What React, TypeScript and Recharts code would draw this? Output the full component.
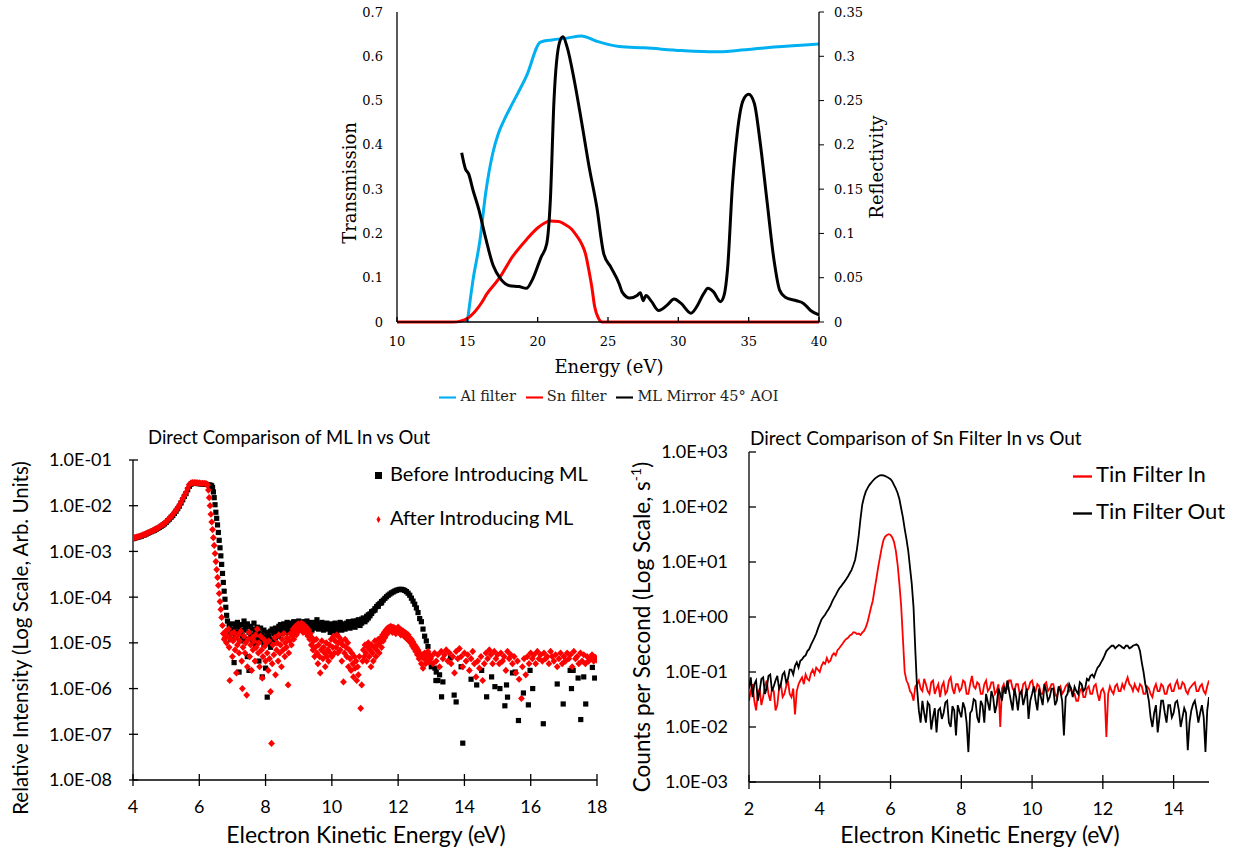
import React from 'react'
import {
  LineChart,
  Line,
  ScatterChart,
  Scatter,
  XAxis,
  YAxis,
  Legend
} from 'recharts'

// ---------- top: filter transmission / mirror reflectivity ----------
const energyTicks = [10, 15, 20, 25, 30, 35, 40]
const transTicks = [0, 0.1, 0.2, 0.3, 0.4, 0.5, 0.6, 0.7]
const reflTicks = [0, 0.05, 0.1, 0.15, 0.2, 0.25, 0.3, 0.35]

const alX = [15.0, 15.4, 15.9, 16.3, 16.8, 17.2, 17.6, 18.2, 19.2, 20.2, 21.0, 22.1, 23.1, 24.2, 25.8, 27.6, 30.2, 32.6, 34.2, 36.8, 40.0]
const alT = [0.0, 0.094, 0.185, 0.29, 0.38, 0.425, 0.455, 0.493, 0.555, 0.632, 0.637, 0.641, 0.646, 0.634, 0.622, 0.619, 0.613, 0.61, 0.613, 0.621, 0.628]

const snX = [10, 14.0, 14.5, 15.0, 15.5, 16.0, 16.4, 17.3, 18.2, 19.2, 20.1, 20.9, 21.5, 21.95, 22.4, 22.7, 23.1, 23.4, 23.65, 23.85, 24.05, 24.3, 24.6, 40]
const snT = [0, 0, 0.002, 0.008, 0.022, 0.043, 0.064, 0.1, 0.147, 0.186, 0.215, 0.228, 0.227, 0.22, 0.21, 0.198, 0.178, 0.154, 0.115, 0.079, 0.035, 0.01, 0, 0]

const mlX = [14.6, 14.86, 15.1, 15.4, 15.8, 16.3, 16.83, 17.35, 18.0, 18.67, 19.2, 19.6, 20.24, 20.64, 20.9, 21.16, 21.56, 21.8, 22.1, 22.6, 23.1, 23.66, 24.2, 24.7, 25.2, 25.8, 26.0, 26.55, 27.07, 27.3, 27.5, 27.7, 28.1, 28.6, 29.2, 29.7, 30.2, 30.9, 31.3, 31.8, 32.1, 32.5, 33.0, 33.25, 33.5, 33.85, 34.2, 34.6, 35.0, 35.4, 35.8, 36.3, 36.8, 37.2, 37.6, 38.4, 38.9, 39.4, 40.0]
const mlR = [0.191, 0.173, 0.167, 0.149, 0.128, 0.095, 0.064, 0.049, 0.041, 0.04, 0.038, 0.047, 0.073, 0.088, 0.137, 0.25, 0.316, 0.322, 0.31, 0.273, 0.228, 0.175, 0.13, 0.077, 0.062, 0.043, 0.034, 0.027, 0.03, 0.033, 0.024, 0.03, 0.023, 0.013, 0.019, 0.026, 0.021, 0.01, 0.017, 0.032, 0.038, 0.034, 0.023, 0.03, 0.06, 0.155, 0.215, 0.25, 0.257, 0.247, 0.205, 0.137, 0.07, 0.036, 0.028, 0.024, 0.021, 0.013, 0.008]

// ---------- bottom left: ML in vs out (scatter) ----------
const mlEnergyTicks = [4, 6, 8, 10, 12, 14, 16, 18]
const mlDecades = [1e-8, 1e-7, 1e-6, 1e-5, 1e-4, 1e-3, 1e-2, 1e-1]

const beforeML: [number, number][] = [
  [4.0, 1.9e-3], [4.05, 1.95e-3], [4.1, 2.0e-3], [4.15, 2.05e-3], [4.2, 2.1e-3], [4.25, 2.15e-3], [4.3, 2.25e-3], [4.35, 2.3e-3],
  [4.4, 2.4e-3], [4.45, 2.5e-3], [4.5, 2.6e-3], [4.55, 2.7e-3], [4.6, 2.8e-3], [4.65, 2.9e-3], [4.7, 3.05e-3], [4.75, 3.2e-3],
  [4.8, 3.35e-3], [4.85, 3.55e-3], [4.9, 3.75e-3], [4.95, 4.0e-3], [5.0, 4.3e-3], [5.05, 4.7e-3], [5.1, 5.1e-3], [5.15, 5.6e-3],
  [5.2, 6.1e-3], [5.25, 6.8e-3], [5.3, 7.6e-3], [5.35, 8.6e-3], [5.4, 9.8e-3], [5.45, 1.15e-2], [5.5, 1.35e-2], [5.55, 1.6e-2],
  [5.6, 1.85e-2], [5.65, 2.25e-2], [5.7, 2.65e-2], [5.75, 2.95e-2], [5.8, 3.1e-2], [5.85, 3.1e-2], [5.9, 3.1e-2], [5.95, 3.05e-2],
  [6.0, 3.05e-2], [6.05, 3.0e-2], [6.1, 3.0e-2], [6.15, 2.95e-2], [6.2, 2.95e-2], [6.25, 2.9e-2], [6.3, 2.85e-2], [6.35, 2.8e-2],
  [6.375, 2.7e-2], [6.4, 2.5e-2], [6.425, 2.0e-2], [6.45, 1.5e-2], [6.475, 1.05e-2], [6.5, 7.2e-3], [6.525, 5.3e-3], [6.55, 3.8e-3],
  [6.575, 2.6e-3], [6.6, 1.75e-3], [6.625, 1.2e-3], [6.65, 8e-4], [6.675, 5.2e-4], [6.7, 3.3e-4], [6.725, 2.1e-4], [6.75, 1.35e-4],
  [6.775, 9e-5], [6.8, 6e-5], [6.825, 4e-5], [6.85, 3e-5],
  [6.9, 2.5e-5], [6.9, 1.5e-5], [6.95, 2.0e-5], [6.95, 1.2e-5], [7.0, 2.6e-5], [7.0, 1.6e-5], [7.05, 1.9e-5], [7.05, 3.7e-6],
  [7.1, 2.4e-5], [7.1, 1.3e-5], [7.15, 2.8e-5], [7.15, 1.7e-5], [7.2, 2.2e-5], [7.2, 2.3e-6], [7.25, 1.8e-5], [7.25, 1.1e-5],
  [7.3, 2.5e-5], [7.3, 1.4e-5], [7.35, 3.0e-5], [7.35, 1.9e-5], [7.4, 2.2e-5], [7.4, 1.2e-5], [7.45, 2.6e-5], [7.45, 5e-6],
  [7.5, 1.7e-5], [7.5, 2.5e-6], [7.55, 2.3e-5], [7.55, 1.3e-5], [7.6, 2.0e-5], [7.6, 1.0e-5], [7.65, 2.7e-5], [7.65, 1.5e-5],
  [7.7, 1.9e-5], [7.7, 9e-6], [7.75, 2.2e-5], [7.75, 1.2e-5], [7.8, 1.6e-5], [7.8, 4e-6], [7.85, 2.1e-5], [7.85, 1.1e-5],
  [7.9, 1.5e-5], [7.9, 1.8e-6], [7.95, 1.9e-5], [7.95, 9e-6], [8.0, 1.3e-5], [8.0, 2.8e-6], [8.05, 1.7e-5], [8.05, 6.5e-7],
  [8.1, 1.4e-5], [8.1, 1.0e-5], [8.15, 1.8e-5], [8.15, 8e-6], [8.2, 1.2e-5], [8.2, 2.0e-5], [8.25, 1.6e-5], [8.25, 1.0e-5],
  [8.3, 2.1e-5], [8.3, 1.3e-5], [8.35, 1.5e-5], [8.35, 1.8e-5], [8.4, 2.3e-5], [8.4, 1.4e-5], [8.45, 1.9e-5], [8.45, 2.5e-5],
  [8.5, 1.6e-5], [8.5, 2.2e-5], [8.55, 2.6e-5], [8.55, 1.7e-5], [8.6, 2.0e-5], [8.6, 2.4e-5], [8.65, 1.8e-5], [8.65, 2.8e-5],
  [8.7, 2.3e-5], [8.7, 1.7e-5], [8.75, 2.7e-5], [8.75, 2.0e-5], [8.8, 2.2e-5], [8.8, 1.9e-5], [8.85, 2.5e-5], [8.85, 2.9e-5],
  [8.9, 2.1e-5], [8.9, 2.6e-5], [8.95, 2.8e-5], [8.95, 2.3e-5], [9.0, 2.4e-5], [9.0, 3.0e-5], [9.05, 2.2e-5], [9.05, 2.7e-5],
  [9.1, 2.5e-5], [9.1, 1.9e-5], [9.15, 2.9e-5], [9.15, 2.3e-5], [9.2, 2.1e-5], [9.2, 2.6e-5], [9.25, 2.4e-5], [9.25, 3.0e-5],
  [9.3, 2.7e-5], [9.3, 2.0e-5], [9.35, 2.3e-5], [9.35, 2.8e-5], [9.4, 2.6e-5], [9.4, 1.9e-5], [9.45, 2.2e-5], [9.45, 2.5e-5],
  [9.5, 2.8e-5], [9.5, 2.1e-5], [9.55, 2.4e-5], [9.55, 3.2e-5], [9.6, 2.0e-5], [9.6, 2.6e-5], [9.65, 2.5e-5], [9.65, 2.2e-5],
  [9.7, 2.3e-5], [9.7, 2.8e-5], [9.75, 2.6e-5], [9.75, 1.9e-5], [9.8, 2.1e-5], [9.8, 2.4e-5], [9.85, 2.7e-5], [9.85, 2.2e-5],
  [9.9, 2.0e-5], [9.9, 2.5e-5], [9.95, 2.3e-5], [9.95, 1.7e-5], [10.0, 2.6e-5], [10.0, 2.0e-5], [10.05, 1.8e-5], [10.05, 2.3e-5],
  [10.1, 2.2e-5], [10.1, 2.7e-5], [10.15, 1.6e-5], [10.15, 2.4e-5], [10.2, 2.5e-5], [10.2, 2.0e-5], [10.25, 2.1e-5], [10.25, 2.8e-5],
  [10.3, 1.9e-5], [10.3, 2.4e-5], [10.35, 2.6e-5], [10.35, 2.2e-5], [10.4, 2.3e-5], [10.4, 2.0e-5], [10.45, 2.7e-5], [10.45, 2.4e-5],
  [10.5, 2.2e-5], [10.5, 2.9e-5], [10.55, 2.5e-5], [10.55, 2.1e-5], [10.6, 2.8e-5], [10.6, 2.3e-5], [10.65, 2.4e-5], [10.65, 3.0e-5],
  [10.7, 2.6e-5], [10.7, 2.2e-5], [10.75, 3.0e-5], [10.75, 2.5e-5], [10.8, 2.7e-5], [10.8, 3.2e-5], [10.85, 2.9e-5], [10.85, 2.4e-5],
  [10.9, 3.3e-5], [10.9, 2.7e-5], [10.95, 3.0e-5], [10.95, 3.5e-5], [11.0, 3.4e-5], [11.0, 2.9e-5], [11.05, 3.8e-5], [11.05, 3.2e-5],
  [11.1, 3.5e-5], [11.1, 4.1e-5], [11.15, 4.3e-5], [11.15, 3.9e-5], [11.2, 4.8e-5], [11.2, 4.4e-5], [11.25, 5.0e-5], [11.3, 5.6e-5],
  [11.3, 5.2e-5], [11.35, 6.2e-5], [11.4, 6.8e-5], [11.4, 6.3e-5], [11.45, 7.3e-5], [11.5, 8.0e-5], [11.5, 7.5e-5], [11.55, 8.6e-5],
  [11.6, 9.4e-5], [11.65, 1.02e-4], [11.7, 1.1e-4], [11.75, 1.17e-4], [11.8, 1.24e-4], [11.85, 1.3e-4], [11.9, 1.36e-4], [11.95, 1.41e-4],
  [12.0, 1.45e-4], [12.05, 1.48e-4], [12.1, 1.48e-4], [12.15, 1.45e-4], [12.2, 1.4e-4], [12.25, 1.32e-4], [12.3, 1.22e-4], [12.35, 1.1e-4],
  [12.4, 9.5e-5], [12.45, 8.2e-5], [12.5, 7.0e-5], [12.55, 5.8e-5], [12.6, 4.6e-5], [12.65, 3.4e-5], [12.7, 2.9e-5], [12.75, 2.0e-5],
  [12.8, 1.4e-5], [12.85, 1.1e-5], [12.9, 8.3e-6], [12.95, 5e-6], [13.0, 3e-6],
  [13.11, 2.8e-6], [13.14, 1.5e-6], [13.15, 2.3e-6], [13.2, 1.5e-6], [13.25, 2.0e-6], [13.31, 6.6e-7], [13.35, 1.4e-6], [13.58, 4.7e-6],
  [13.69, 7.2e-7], [13.75, 5.1e-7], [13.9, 3e-6], [13.95, 6.4e-8], [14.2, 1.6e-6], [14.37, 1.2e-6], [14.52, 2.5e-6], [14.67, 6.6e-7],
  [14.82, 1.8e-6], [14.92, 1.1e-6], [15.07, 1.0e-6], [15.22, 4.2e-7], [15.27, 1.2e-6], [15.3, 6.5e-7], [15.45, 2.2e-6], [15.53, 2.3e-6],
  [15.63, 2e-7], [15.78, 8e-7], [15.93, 4.4e-7], [15.98, 2.5e-6], [16.06, 1.0e-6], [16.38, 1.7e-7], [16.8, 1.26e-6], [16.98, 4.6e-7],
  [17.19, 2.5e-6], [17.23, 1.0e-6], [17.28, 2.5e-6], [17.43, 1.7e-6], [17.51, 2.1e-7], [17.6, 1.8e-6], [17.66, 4.6e-7], [17.86, 2.9e-6],
  [17.93, 1.7e-6]
]

const afterML: [number, number][] = [
  [4.0, 1.95e-3], [4.05, 2.0e-3], [4.1, 2.05e-3], [4.15, 2.1e-3], [4.2, 2.15e-3], [4.25, 2.2e-3], [4.3, 2.3e-3], [4.35, 2.35e-3],
  [4.4, 2.45e-3], [4.45, 2.55e-3], [4.5, 2.65e-3], [4.55, 2.75e-3], [4.6, 2.85e-3], [4.65, 3.0e-3], [4.7, 3.1e-3], [4.75, 3.25e-3],
  [4.8, 3.45e-3], [4.85, 3.65e-3], [4.9, 3.85e-3], [4.95, 4.1e-3], [5.0, 4.45e-3], [5.05, 4.85e-3], [5.1, 5.3e-3], [5.15, 5.8e-3],
  [5.2, 6.4e-3], [5.25, 7.1e-3], [5.3, 8.0e-3], [5.35, 9.0e-3], [5.4, 1.03e-2], [5.45, 1.2e-2], [5.5, 1.42e-2], [5.55, 1.65e-2],
  [5.6, 1.95e-2], [5.65, 2.4e-2], [5.7, 2.9e-2], [5.75, 3.15e-2], [5.8, 3.2e-2], [5.85, 3.2e-2], [5.9, 3.2e-2], [5.95, 3.15e-2],
  [6.0, 3.15e-2], [6.05, 3.1e-2], [6.1, 3.1e-2], [6.15, 3.1e-2], [6.2, 3.05e-2], [6.225, 2.95e-2],
  [6.25, 2.85e-2], [6.275, 2.2e-2], [6.3, 1.5e-2], [6.325, 1.0e-2], [6.35, 6.5e-3], [6.375, 4.4e-3], [6.4, 3.0e-3], [6.425, 2.0e-3],
  [6.45, 1.35e-3], [6.475, 9e-4], [6.5, 6e-4], [6.525, 4e-4], [6.55, 2.7e-4], [6.575, 1.8e-4], [6.6, 1.2e-4], [6.625, 8e-5],
  [6.65, 5.4e-5], [6.675, 3.6e-5], [6.7, 2.4e-5], [6.725, 1.6e-5], [6.75, 1.2e-5],
  [6.78, 1.3e-5], [6.8, 1.8e-5], [6.82, 1.0e-5], [6.85, 1.4e-5], [6.88, 2.0e-5], [6.9, 8e-6], [6.92, 1.5e-6], [6.95, 1.2e-5],
  [6.98, 1.6e-5], [7.0, 5e-6], [7.02, 1.1e-5], [7.05, 1.7e-5], [7.08, 7e-6], [7.1, 1.3e-5], [7.12, 2.2e-6], [7.15, 9e-6],
  [7.18, 1.5e-5], [7.2, 6e-6], [7.22, 1.1e-5], [7.25, 1.8e-5], [7.28, 4e-6], [7.3, 1.0e-6], [7.32, 8e-6], [7.35, 1.4e-5],
  [7.38, 6e-6], [7.4, 1.0e-5], [7.43, 7.2e-7], [7.45, 3e-6], [7.48, 1.2e-5], [7.5, 1.7e-5], [7.52, 5e-6], [7.55, 9e-6],
  [7.58, 2.5e-6], [7.6, 1.3e-5], [7.62, 7e-6], [7.65, 1.1e-5], [7.68, 4e-6], [7.7, 1.5e-5], [7.72, 8e-6], [7.75, 2e-5],
  [7.78, 6e-6], [7.8, 1.0e-5], [7.82, 3e-6], [7.85, 1.4e-5], [7.88, 7e-6], [7.9, 1.7e-6], [7.92, 5e-6], [7.95, 1.2e-5],
  [7.98, 8.5e-6], [8.0, 4e-6], [8.02, 1.0e-5], [8.05, 6e-6], [8.08, 2.5e-6], [8.1, 1.1e-5], [8.12, 4.5e-6], [8.15, 8.6e-7],
  [8.18, 6.3e-8], [8.2, 3.5e-6], [8.22, 9e-6], [8.25, 5.5e-6], [8.28, 1.3e-5], [8.3, 2e-6], [8.33, 7e-6], [8.35, 1.0e-5],
  [8.38, 4e-6], [8.4, 1.5e-5], [8.43, 6e-6], [8.45, 9e-6], [8.48, 3e-6], [8.5, 1.2e-5], [8.53, 7e-6], [8.55, 1.6e-5],
  [8.58, 5e-6], [8.6, 1.0e-5], [8.63, 8e-6], [8.65, 1.3e-5], [8.68, 1.2e-6], [8.7, 6e-6], [8.73, 1.1e-5], [8.75, 1.6e-5],
  [8.78, 9e-6], [8.8, 1.4e-5], [8.83, 2e-5], [8.85, 1.2e-5], [8.88, 1.7e-5], [8.9, 2.3e-5], [8.93, 1.5e-5], [8.95, 2.1e-5],
  [8.98, 2.6e-5], [9.0, 1.8e-5], [9.03, 2.4e-5], [9.05, 2.0e-5], [9.08, 2.7e-5], [9.1, 2.2e-5], [9.13, 1.7e-5], [9.15, 2.5e-5],
  [9.18, 1.9e-5], [9.2, 2.3e-5], [9.23, 1.6e-5], [9.25, 2.1e-5], [9.28, 1.4e-5], [9.3, 1.9e-5], [9.33, 1.2e-5], [9.35, 1.6e-5],
  [9.38, 9e-6], [9.4, 1.3e-5], [9.43, 7e-6], [9.45, 1.1e-5], [9.48, 5e-6], [9.5, 8e-6], [9.53, 1.2e-5], [9.55, 6e-6],
  [9.58, 3.5e-6], [9.6, 9e-6], [9.63, 5e-6], [9.65, 2.2e-6], [9.68, 7e-6], [9.7, 1.1e-5], [9.73, 4.5e-6], [9.75, 8e-6],
  [9.78, 6e-6], [9.8, 3e-6], [9.83, 1.0e-5], [9.85, 5e-6], [9.88, 7e-6], [9.9, 4e-6], [9.93, 9e-6], [9.95, 6e-6],
  [9.98, 1.2e-5], [10.0, 5e-6], [10.03, 8e-6], [10.05, 1.4e-5], [10.08, 6e-6], [10.1, 1.1e-5], [10.13, 8e-6], [10.15, 1.5e-5],
  [10.18, 6e-6], [10.2, 1.0e-5], [10.23, 1.3e-5], [10.25, 7e-6], [10.28, 1.1e-5], [10.3, 4e-6], [10.33, 9e-6], [10.35, 1.4e-6],
  [10.38, 6e-6], [10.4, 1.2e-5], [10.43, 8e-6], [10.45, 5e-6], [10.48, 1.0e-5], [10.5, 3e-6], [10.53, 7e-6], [10.55, 4.5e-6],
  [10.58, 2.5e-6], [10.6, 6e-6], [10.63, 3.5e-6], [10.65, 1.8e-6], [10.68, 5e-6], [10.7, 2.8e-6], [10.73, 4e-6], [10.75, 1.5e-6],
  [10.78, 3e-6], [10.8, 2e-6], [10.83, 5e-6], [10.87, 3.7e-7], [10.9, 1.2e-6], [10.93, 4e-6], [10.95, 7e-6], [10.98, 5e-6],
  [11.0, 9e-6], [11.03, 6e-6], [11.05, 4e-6], [11.08, 8e-6], [11.1, 1.0e-5], [11.13, 5e-6], [11.15, 7e-6], [11.18, 3e-6],
  [11.2, 9e-6], [11.23, 6e-6], [11.25, 4e-6], [11.28, 8e-6], [11.3, 1.1e-5], [11.33, 5e-6], [11.35, 7e-6], [11.38, 9e-6],
  [11.4, 1.2e-5], [11.43, 6e-6], [11.45, 1.0e-5], [11.48, 1.3e-5], [11.5, 8e-6], [11.53, 1.5e-5], [11.55, 1.1e-5], [11.58, 1.7e-5],
  [11.6, 1.3e-5], [11.63, 1.9e-5], [11.65, 1.5e-5], [11.68, 2.1e-5], [11.7, 1.7e-5], [11.73, 2.2e-5], [11.75, 1.8e-5], [11.78, 2.3e-5],
  [11.8, 2.0e-5], [11.83, 1.7e-5], [11.85, 2.2e-5], [11.88, 1.9e-5], [11.9, 2.1e-5], [11.93, 1.6e-5], [11.95, 2.0e-5], [11.98, 1.8e-5],
  [12.0, 2.2e-5], [12.03, 1.7e-5], [12.05, 2.0e-5], [12.08, 1.5e-5], [12.1, 1.9e-5], [12.13, 1.6e-5], [12.15, 1.8e-5], [12.18, 1.4e-5],
  [12.2, 1.7e-5], [12.23, 1.3e-5], [12.25, 1.6e-5], [12.28, 1.2e-5], [12.3, 1.5e-5], [12.33, 1.1e-5], [12.35, 1.3e-5], [12.38, 1.0e-5],
  [12.4, 1.2e-5], [12.43, 8.5e-6], [12.45, 1.05e-5], [12.48, 7.5e-6], [12.5, 9e-6], [12.53, 6.5e-6], [12.55, 8e-6], [12.58, 5.5e-6],
  [12.6, 7e-6], [12.63, 4.5e-6], [12.65, 6e-6], [12.68, 5e-6], [12.7, 3.5e-6], [12.73, 5.5e-6], [12.75, 2.8e-6], [12.78, 4.5e-6],
  [12.8, 6e-6], [12.83, 3.5e-6], [12.85, 5e-6], [12.88, 4e-6], [12.9, 6.5e-6], [12.93, 3.8e-6], [12.95, 5.5e-6], [12.98, 4.5e-6],
  [13.0, 5e-6], [13.05, 3.5e-6], [13.1, 6e-6], [13.15, 4e-6], [13.2, 5.5e-6], [13.25, 3e-6], [13.3, 6.5e-6], [13.35, 4.5e-6],
  [13.4, 5.5e-6], [13.45, 7e-6], [13.5, 4e-6], [13.55, 6e-6], [13.6, 3.5e-6], [13.65, 5e-6], [13.7, 2.2e-6], [13.75, 6.5e-6],
  [13.8, 4.5e-6], [13.85, 7.5e-6], [13.9, 5e-6], [13.95, 3e-6], [14.0, 6e-6], [14.05, 4e-6], [14.1, 5.5e-6], [14.15, 2.5e-6],
  [14.2, 4.5e-6], [14.25, 6.5e-6], [14.3, 3.5e-6], [14.35, 1.8e-6], [14.4, 4e-6], [14.45, 2.8e-6], [14.5, 5e-6], [14.55, 1.5e-6],
  [14.6, 3.5e-6], [14.65, 6e-6], [14.7, 4.5e-6], [14.75, 7e-6], [14.8, 5.5e-6], [14.85, 3.5e-6], [14.9, 6.5e-6], [14.95, 4.5e-6],
  [15.0, 5.5e-6], [15.05, 3.5e-6], [15.1, 6e-6], [15.15, 4e-6], [15.2, 5e-6], [15.25, 2.5e-6], [15.3, 6.5e-6], [15.35, 4.5e-6],
  [15.4, 5.5e-6], [15.45, 3.5e-6], [15.5, 5e-6], [15.55, 2.2e-6], [15.6, 4e-6], [15.65, 1.6e-6], [15.72, 6.1e-7], [15.75, 3e-6],
  [15.8, 4.5e-6], [15.85, 2e-6], [15.9, 5e-6], [15.95, 3.5e-6], [16.0, 6e-6], [16.05, 4.5e-6], [16.1, 5.5e-6], [16.15, 3.5e-6],
  [16.2, 6.5e-6], [16.25, 4.5e-6], [16.3, 5.5e-6], [16.35, 4e-6], [16.4, 6e-6], [16.45, 4.5e-6], [16.5, 5e-6], [16.55, 3.5e-6],
  [16.6, 6.5e-6], [16.65, 5e-6], [16.7, 4e-6], [16.75, 5.5e-6], [16.8, 3e-6], [16.85, 4.5e-6], [16.9, 6e-6], [16.95, 3.5e-6],
  [17.0, 5e-6], [17.05, 4e-6], [17.1, 6e-6], [17.15, 4.5e-6], [17.2, 5.5e-6], [17.25, 3e-6], [17.3, 6.5e-6], [17.35, 4.5e-6],
  [17.4, 5e-6], [17.45, 3.5e-6], [17.5, 6e-6], [17.55, 4e-6], [17.6, 5.5e-6], [17.65, 3.5e-6], [17.7, 5e-6], [17.75, 4e-6],
  [17.8, 4.5e-6], [17.85, 5.5e-6], [17.9, 4e-6], [17.95, 4.8e-6], [18.0, 4.2e-6]
]

// ---------- bottom right: Sn filter in vs out (lines) ----------
const tinEnergyTicks = [2, 4, 6, 8, 10, 12, 14]
const tinDecades = [1e-3, 1e-2, 1e-1, 1, 10, 100, 1000]

// one row per eV, 0.05 eV apart
const tinX = [
  2.0, 2.05, 2.1, 2.15, 2.2, 2.25, 2.3, 2.35, 2.4, 2.45, 2.5, 2.55, 2.6, 2.65, 2.7, 2.75, 2.8, 2.85, 2.9, 2.95,
  3.0, 3.05, 3.1, 3.15, 3.2, 3.25, 3.3, 3.35, 3.4, 3.45, 3.5, 3.55, 3.6, 3.65, 3.7, 3.75, 3.8, 3.85, 3.9, 3.95,
  4.0, 4.05, 4.1, 4.15, 4.2, 4.25, 4.3, 4.35, 4.4, 4.45, 4.5, 4.55, 4.6, 4.65, 4.7, 4.75, 4.8, 4.85, 4.9, 4.95,
  5.0, 5.05, 5.1, 5.15, 5.2, 5.25, 5.3, 5.35, 5.4, 5.45, 5.5, 5.55, 5.6, 5.65, 5.7, 5.75, 5.8, 5.85, 5.9, 5.95,
  6.0, 6.05, 6.1, 6.15, 6.2, 6.25, 6.3, 6.35, 6.4, 6.45, 6.5, 6.55, 6.6, 6.65, 6.7, 6.75, 6.8, 6.85, 6.9, 6.95,
  7.0, 7.05, 7.1, 7.15, 7.2, 7.25, 7.3, 7.35, 7.4, 7.45, 7.5, 7.55, 7.6, 7.65, 7.7, 7.75, 7.8, 7.85, 7.9, 7.95,
  8.0, 8.05, 8.1, 8.15, 8.2, 8.25, 8.3, 8.35, 8.4, 8.45, 8.5, 8.55, 8.6, 8.65, 8.7, 8.75, 8.8, 8.85, 8.9, 8.95,
  9.0, 9.05, 9.1, 9.15, 9.2, 9.25, 9.3, 9.35, 9.4, 9.45, 9.5, 9.55, 9.6, 9.65, 9.7, 9.75, 9.8, 9.85, 9.9, 9.95,
  10.0, 10.05, 10.1, 10.15, 10.2, 10.25, 10.3, 10.35, 10.4, 10.45, 10.5, 10.55, 10.6, 10.65, 10.7, 10.75, 10.8, 10.85, 10.9, 10.95,
  11.0, 11.05, 11.1, 11.15, 11.2, 11.25, 11.3, 11.35, 11.4, 11.45, 11.5, 11.55, 11.6, 11.65, 11.7, 11.75, 11.8, 11.85, 11.9, 11.95,
  12.0, 12.05, 12.1, 12.15, 12.2, 12.25, 12.3, 12.35, 12.4, 12.45, 12.5, 12.55, 12.6, 12.65, 12.7, 12.75, 12.8, 12.85, 12.9, 12.95,
  13.0, 13.05, 13.1, 13.15, 13.2, 13.25, 13.3, 13.35, 13.4, 13.45, 13.5, 13.55, 13.6, 13.65, 13.7, 13.75, 13.8, 13.85, 13.9, 13.95,
  14.0, 14.05, 14.1, 14.15, 14.2, 14.25, 14.3, 14.35, 14.4, 14.45, 14.5, 14.55, 14.6, 14.65, 14.7, 14.75, 14.8, 14.85, 14.9, 14.95,
  15.0
]
const tinIn = [
  0.03, 0.045, 0.06, 0.03, 0.02, 0.04, 0.05, 0.025, 0.035, 0.055, 0.07, 0.04, 0.03, 0.05, 0.045, 0.02, 0.025, 0.05, 0.06, 0.035,
  0.04, 0.055, 0.07, 0.04, 0.035, 0.05, 0.017, 0.045, 0.06, 0.07, 0.08, 0.06, 0.09, 0.075, 0.07, 0.095, 0.11, 0.09, 0.12, 0.11,
  0.1, 0.13, 0.15, 0.14, 0.18, 0.15, 0.16, 0.2, 0.22, 0.2, 0.25, 0.27, 0.3, 0.33, 0.37, 0.4, 0.42, 0.46, 0.48, 0.53,
  0.52, 0.49, 0.5, 0.47, 0.52, 0.56, 0.65, 0.8, 1.1, 1.5, 2.0, 3.2, 5, 8, 12, 18, 25, 29, 31, 32,
  31, 28, 23, 16, 9, 4, 1.6, 0.4, 0.1, 0.07, 0.06, 0.045, 0.04, 0.03, 0.055, 0.06, 0.07, 0.05, 0.045, 0.075,
  0.06, 0.045, 0.04, 0.065, 0.07, 0.04, 0.05, 0.06, 0.035, 0.055, 0.065, 0.04, 0.045, 0.07, 0.08, 0.05, 0.04, 0.06, 0.06, 0.045,
  0.05, 0.07, 0.065, 0.04, 0.04, 0.06, 0.085, 0.055, 0.05, 0.065, 0.06, 0.04, 0.04, 0.06, 0.07, 0.045, 0.05, 0.065, 0.065, 0.04,
  0.045, 0.06, 0.01, 0.05, 0.06, 0.045, 0.05, 0.07, 0.07, 0.05, 0.045, 0.06, 0.06, 0.04, 0.04, 0.06, 0.065, 0.045, 0.05, 0.065,
  0.07, 0.05, 0.045, 0.06, 0.055, 0.04, 0.04, 0.06, 0.065, 0.045, 0.05, 0.06, 0.06, 0.04, 0.035, 0.05, 0.055, 0.04, 0.045, 0.055,
  0.06, 0.045, 0.05, 0.04, 0.04, 0.03, 0.03, 0.045, 0.05, 0.035, 0.035, 0.05, 0.055, 0.04, 0.04, 0.055, 0.06, 0.04, 0.03, 0.045,
  0.05, 0.04, 0.0066, 0.04, 0.055, 0.045, 0.04, 0.055, 0.06, 0.045, 0.045, 0.06, 0.05, 0.065, 0.08, 0.06, 0.055, 0.045, 0.06, 0.05,
  0.045, 0.06, 0.055, 0.04, 0.04, 0.055, 0.05, 0.04, 0.035, 0.05, 0.06, 0.045, 0.045, 0.06, 0.055, 0.04, 0.04, 0.055, 0.06, 0.045,
  0.045, 0.06, 0.07, 0.05, 0.05, 0.065, 0.06, 0.045, 0.04, 0.05, 0.055, 0.06, 0.065, 0.045, 0.045, 0.055, 0.06, 0.045, 0.04, 0.055,
  0.07
]
const tinOut = [
  0.05, 0.08, 0.035, 0.06, 0.07, 0.03, 0.045, 0.075, 0.08, 0.04, 0.05, 0.085, 0.09, 0.045, 0.055, 0.07, 0.085, 0.05, 0.06, 0.09,
  0.1, 0.065, 0.075, 0.11, 0.11, 0.09, 0.13, 0.15, 0.12, 0.16, 0.17, 0.19, 0.2, 0.24, 0.26, 0.31, 0.36, 0.42, 0.5, 0.62,
  0.75, 0.9, 1.0, 1.1, 1.25, 1.4, 1.6, 1.9, 2.2, 2.5, 2.9, 3.3, 3.6, 4.0, 4.4, 4.9, 5.5, 6.3, 7.2, 8.8,
  11, 17, 30, 60, 110, 150, 190, 220, 250, 275, 300, 325, 345, 362, 375, 380, 375, 365, 350, 337,
  320, 290, 250, 215, 180, 140, 95, 65, 40, 26, 16, 8, 4, 1.5, 0.25, 0.05, 0.02, 0.012, 0.03, 0.018,
  0.012, 0.028, 0.025, 0.009, 0.015, 0.022, 0.008, 0.02, 0.022, 0.014, 0.018, 0.028, 0.03, 0.012, 0.01, 0.024, 0.02, 0.007, 0.025, 0.019,
  0.015, 0.028, 0.022, 0.012, 0.0035, 0.018, 0.02, 0.032, 0.03, 0.015, 0.012, 0.03, 0.025, 0.012, 0.04, 0.028, 0.02, 0.045, 0.035, 0.018,
  0.025, 0.05, 0.04, 0.03, 0.055, 0.04, 0.07, 0.045, 0.03, 0.02, 0.05, 0.035, 0.02, 0.04, 0.045, 0.025, 0.035, 0.05, 0.014, 0.03,
  0.04, 0.055, 0.03, 0.02, 0.05, 0.035, 0.025, 0.06, 0.045, 0.03, 0.035, 0.05, 0.05, 0.025, 0.03, 0.055, 0.045, 0.03, 0.007, 0.035,
  0.04, 0.06, 0.05, 0.035, 0.054, 0.045, 0.04, 0.065, 0.06, 0.045, 0.05, 0.075, 0.07, 0.085, 0.09, 0.08, 0.1, 0.12, 0.13, 0.15,
  0.17, 0.2, 0.24, 0.26, 0.28, 0.3, 0.3, 0.27, 0.29, 0.31, 0.3, 0.28, 0.27, 0.3, 0.3, 0.27, 0.28, 0.3, 0.31, 0.32,
  0.3, 0.24, 0.15, 0.1, 0.06, 0.045, 0.03, 0.015, 0.01, 0.018, 0.025, 0.008, 0.015, 0.03, 0.03, 0.018, 0.012, 0.025, 0.025, 0.015,
  0.018, 0.028, 0.03, 0.02, 0.01, 0.015, 0.022, 0.018, 0.0038, 0.012, 0.02, 0.026, 0.03, 0.02, 0.012, 0.018, 0.025, 0.015, 0.0035, 0.02,
  0.035
]

const alRows = alX.map((x, i) => ({ x, y: alT[i] }))
const snRows = snX.map((x, i) => ({ x, y: snT[i] }))
const mlRows = mlX.map((x, i) => ({ x, y: mlR[i] }))
const beforeRows = beforeML.map(([x, y]) => ({ x, y }))
const afterRows = afterML.map(([x, y]) => ({ x, y }))
const tinRows = tinX.map((x, i) => ({ x, tinIn: tinIn[i], tinOut: tinOut[i] }))

const SERIF = '"DejaVu Serif", serif'
const SANS = 'Lato, "Open Sans", sans-serif'

// keep legend entries in series order (recharts sorts by name otherwise)
const keepOrder = (names: string[]) => (item: any) => names.indexOf(item.value)

// 1.0E-05 style labels
const sci = (v: number) => {
  const e = Math.round(Math.log10(v))
  const m = v / Math.pow(10, e)
  return `${m.toFixed(1)}E${e < 0 ? '-' : '+'}${String(Math.abs(e)).padStart(2, '0')}`
}

// x tick that crosses the axis line (label sits tickMargin below the axis)
const crossXTick = (margin: number, up: number, down: number, size: number, family: string) =>
  (props: any) => {
    const { x, y, payload } = props
    const axisY = y - margin
    return (
      <g>
        <line x1={x} x2={x} y1={axisY - up} y2={axisY + down} stroke="#000" strokeWidth={1.3} />
        <text x={x} y={y} dy="0.71em" textAnchor="middle" fill="#000" fontSize={size} fontFamily={family}>
          {payload.value}
        </text>
      </g>
    )
  }

const crossYTick = (margin: number, left: number, right: number) => (props: any) => {
  const { x, y, payload } = props
  const axisX = x + margin
  return (
    <g>
      <line x1={axisX - left} x2={axisX + right} y1={y} y2={y} stroke="#000" strokeWidth={1.3} />
      <text x={x} y={y} dy="0.355em" textAnchor="end" fill="#000" fontSize={18} fontFamily={SANS}>
        {sci(payload.value)}
      </text>
    </g>
  )
}

const SquareDot = (p: any) => <rect x={p.cx - 2.6} y={p.cy - 2.6} width={5.2} height={5.2} fill="#000" />
const DiamondDot = (p: any) => (
  <path d={`M${p.cx},${p.cy - 3.6}L${p.cx + 3.4},${p.cy}L${p.cx},${p.cy + 3.6}L${p.cx - 3.4},${p.cy}Z`} fill="#FF0000" />
)

const blackText = (value: string) => <span style={{ color: '#000', marginLeft: 4 }}>{value}</span>

function Title({ x, y, size, family, rotate, children }: any) {
  return (
    <div
      style={{
        position: 'absolute',
        left: x,
        top: y,
        transform: `translate(-50%, -50%)${rotate ? ' rotate(-90deg)' : ''}`,
        whiteSpace: 'nowrap',
        fontSize: size,
        fontFamily: family,
        color: '#000',
        lineHeight: 1
      }}
    >
      {children}
    </div>
  )
}

function FilterChart() {
  return (
    <div style={{ position: 'absolute', left: 330, top: 0 }}>
      <LineChart width={560} height={415} margin={{ top: 12, right: 0, bottom: 0, left: 0 }}>
        <XAxis
          type="number"
          dataKey="x"
          domain={[10, 40]}
          ticks={energyTicks}
          allowDataOverflow
          height={93}
          tickLine={false}
          tickSize={0}
          tickMargin={15}
          tick={crossXTick(15, 5, 0, 13, SERIF)}
          axisLine={{ stroke: '#000', strokeWidth: 1.3 }}
        />
        <YAxis
          yAxisId="t"
          type="number"
          domain={[0, 0.7]}
          ticks={transTicks}
          width={67}
          tickLine={false}
          tickSize={0}
          tickMargin={14}
          tick={{ fill: '#000', fontSize: 13, fontFamily: SERIF }}
          axisLine={{ stroke: '#000', strokeWidth: 1.3 }}
        />
        <YAxis
          yAxisId="r"
          orientation="right"
          type="number"
          domain={[0, 0.35]}
          ticks={reflTicks}
          width={71}
          tickSize={5}
          tickMargin={10}
          tickLine={{ stroke: '#000' }}
          tick={{ fill: '#000', fontSize: 13, fontFamily: SERIF }}
          axisLine={{ stroke: '#000', strokeWidth: 1.3 }}
        />
        <Legend
          layout="horizontal"
          align="center"
          verticalAlign="middle"
          iconSize={17}
          itemSorter={keepOrder(['Al filter', 'Sn filter', 'ML Mirror 45° AOI'])}
          formatter={(v: string) => <span style={{ color: '#222' }}>{v}</span>}
          wrapperStyle={{ top: 388, left: 4, width: 560, fontFamily: SERIF, fontSize: 14.5 }}
        />
        <Line
          data={alRows}
          dataKey="y"
          yAxisId="t"
          name="Al filter"
          type="monotone"
          stroke="#00B0F0"
          strokeWidth={3}
          dot={false}
          legendType="plainline"
          isAnimationActive={false}
        />
        <Line
          data={snRows}
          dataKey="y"
          yAxisId="t"
          name="Sn filter"
          type="monotone"
          stroke="#FF0000"
          strokeWidth={3}
          dot={false}
          legendType="plainline"
          isAnimationActive={false}
        />
        <Line
          data={mlRows}
          dataKey="y"
          yAxisId="r"
          name="ML Mirror 45° AOI"
          type="monotone"
          stroke="#000"
          strokeWidth={3}
          dot={false}
          legendType="plainline"
          isAnimationActive={false}
        />
      </LineChart>
    </div>
  )
}

function MirrorChart() {
  return (
    <div style={{ position: 'absolute', left: 0, top: 425 }}>
      <ScatterChart width={610} height={430} margin={{ top: 35, right: 13, bottom: 0, left: 0 }}>
        <XAxis
          type="number"
          dataKey="x"
          domain={[4, 18]}
          ticks={mlEnergyTicks}
          allowDataOverflow
          height={75}
          tickLine={false}
          tickSize={0}
          tickMargin={20}
          tick={crossXTick(20, 6, 6, 18, SANS)}
          axisLine={{ stroke: '#000', strokeWidth: 1.3 }}
        />
        <YAxis
          type="number"
          dataKey="y"
          scale="log"
          domain={[1e-8, 1e-1]}
          ticks={mlDecades}
          allowDataOverflow
          width={133}
          tickLine={false}
          tickSize={0}
          tickMargin={21}
          tick={crossYTick(21, 4, 5)}
          axisLine={{ stroke: '#000', strokeWidth: 1.3 }}
        />
        <Legend
          layout="vertical"
          align="center"
          verticalAlign="middle"
          iconSize={7}
          itemSorter={keepOrder(['Before Introducing ML', 'After Introducing ML'])}
          formatter={blackText}
          wrapperStyle={{ top: 26, left: 375, width: 230, fontFamily: SANS, fontSize: 20, lineHeight: '44px' }}
        />
        <Scatter
          name="Before Introducing ML"
          data={beforeRows}
          fill="#000"
          shape={SquareDot}
          legendType="square"
          isAnimationActive={false}
        />
        <Scatter
          name="After Introducing ML"
          data={afterRows}
          fill="#FF0000"
          shape={DiamondDot}
          legendType="diamond"
          isAnimationActive={false}
        />
      </ScatterChart>
    </div>
  )
}

function TinChart() {
  return (
    <div style={{ position: 'absolute', left: 620, top: 425 }}>
      <LineChart width={617} height={430} data={tinRows} margin={{ top: 27, right: 28, bottom: 0, left: 0 }}>
        <XAxis
          type="number"
          dataKey="x"
          domain={[2, 15]}
          ticks={tinEnergyTicks}
          allowDataOverflow
          height={73}
          tickLine={false}
          tickSize={0}
          tickMargin={20}
          tick={crossXTick(20, 7, 7, 18, SANS)}
          axisLine={{ stroke: '#000', strokeWidth: 1.3 }}
        />
        <YAxis
          type="number"
          scale="log"
          domain={[1e-3, 1e3]}
          ticks={tinDecades}
          allowDataOverflow
          width={129}
          tickLine={false}
          tickSize={0}
          tickMargin={21}
          tick={crossYTick(21, 0, 7)}
          axisLine={{ stroke: '#000', strokeWidth: 1.3 }}
        />
        <Legend
          layout="vertical"
          align="center"
          verticalAlign="middle"
          iconSize={19}
          itemSorter={keepOrder(['Tin Filter In', 'Tin Filter Out'])}
          formatter={(v: string) => <span style={{ color: '#000' }}>{v}</span>}
          wrapperStyle={{ top: 31, left: 453, width: 170, fontFamily: SANS, fontSize: 22, lineHeight: '36.7px' }}
        />
        <Line
          dataKey="tinIn"
          name="Tin Filter In"
          type="linear"
          stroke="#FF0000"
          strokeWidth={1.8}
          dot={false}
          legendType="plainline"
          isAnimationActive={false}
        />
        <Line
          dataKey="tinOut"
          name="Tin Filter Out"
          type="linear"
          stroke="#000"
          strokeWidth={1.8}
          dot={false}
          legendType="plainline"
          isAnimationActive={false}
        />
      </LineChart>
    </div>
  )
}

export default function App() {
  return (
    <div style={{ position: 'absolute', left: 0, top: 0, width: 1237, height: 855, background: '#fff' }}>
      <FilterChart />
      <Title x={350} y={183} size={18} family={SERIF} rotate>Transmission</Title>
      <Title x={877} y={167} size={18} family={SERIF} rotate>Reflectivity</Title>
      <Title x={609} y={367} size={18} family={SERIF}>Energy (eV)</Title>

      <MirrorChart />
      <div style={{ position: 'absolute', left: 148, top: 426, fontFamily: SANS, fontSize: 18.5, color: '#000', whiteSpace: 'nowrap' }}>
        Direct Comparison of ML In vs Out
      </div>
      <Title x={20} y={638} size={20.5} family={SANS} rotate>Relative Intensity (Log Scale, Arb. Units)</Title>
      <Title x={366} y={834} size={23} family={SANS}>Electron Kinetic Energy (eV)</Title>

      <TinChart />
      <div style={{ position: 'absolute', left: 750, top: 426, fontFamily: SANS, fontSize: 19, color: '#000', whiteSpace: 'nowrap' }}>
        Direct Comparison of Sn Filter In vs Out
      </div>
      <Title x={641} y={627} size={22.5} family={SANS} rotate>
        Counts per Second (Log Scale, s<sup style={{ fontSize: 14 }}>-1</sup>)
      </Title>
      <Title x={980} y={834} size={23} family={SANS}>Electron Kinetic Energy (eV)</Title>
    </div>
  )
}
